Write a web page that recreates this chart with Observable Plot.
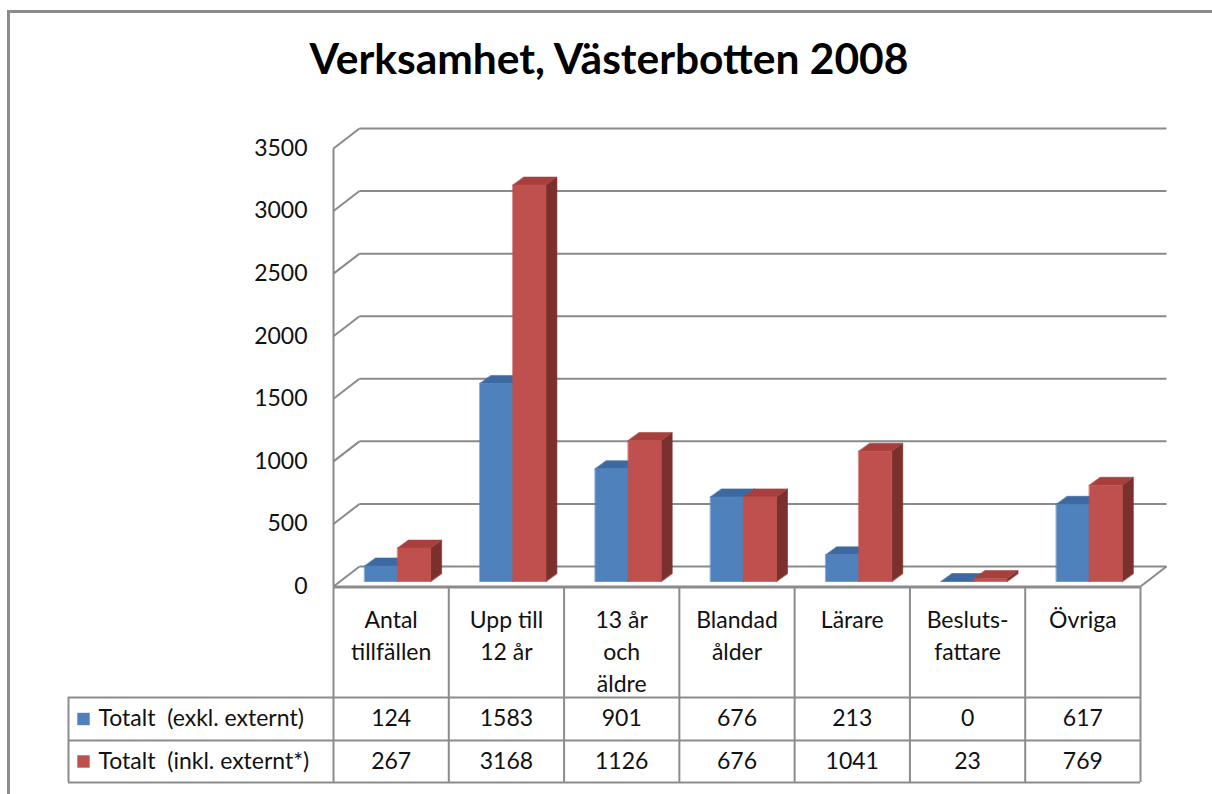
<!DOCTYPE html>
<html><head><meta charset="utf-8">
<script src="https://cdn.jsdelivr.net/npm/d3@7"></script>
<script src="https://cdn.jsdelivr.net/npm/@observablehq/plot@0.6"></script>
<style>
body{margin:0;background:#fff;}
#wrap{position:relative;width:1212px;height:794px;overflow:hidden;font-family:Lato,sans-serif;background:#fff;}
#frame{position:absolute;left:7px;top:10px;width:1400px;height:1000px;border-left:3px solid #8c8c8c;border-top:3px solid #8c8c8c;}
#title{position:absolute;left:0;width:1218px;top:32px;text-align:center;font-weight:bold;font-size:42.5px;font-family:Lato,sans-serif;color:#000;}
#chart,#table{position:absolute;left:0;}
#chart{top:0} #table{top:580px}
svg text{white-space:pre}
</style></head>
<body><div id="wrap"><div id="frame"></div><div id="chart"></div><div id="table"></div><div id="title">Verksamhet, Västerbotten 2008</div></div>
<script>
const categories = ["Antal\ntillfällen","Upp till\n12 år","13 år\noch\näldre","Blandad\nålder","Lärare","Besluts-\nfattare","Övriga"];
const exkl = [124,1583,901,676,213,0,617];
const inkl = [267,3168,1126,676,1041,23,769];
const seriesNames = ["Totalt  (exkl. externt)","Totalt  (inkl. externt*)"];
const yTicks = [0,500,1000,1500,2000,2500,3000,3500];
const colors = {
  front:["#4f81bd","#c0504d"],
  top:["#3d69a3","#a7403d"],
  side:["#2f5482","#7b302e"]
};

// layout (pixels)
const X0=333, X1=1140, Y0=586, YT=148;
const nCat = categories.length;
const kx = nCat/(X1-X0), ky = 3500/(Y0-YT);
const off = (x,v,ox,oy)=>({x:x+ox*kx, y:v-oy*ky});
const WALL=[26,-20], FRONT=[6.5,-5], DEPTH=[11,-8], BARW=33;

// walls / grid
const grid = yTicks.map(t=>({a:off(0,t,...WALL), b:off(nCat,t,...WALL)}));
const diag = yTicks.map(t=>({a:{x:0,y:t}, b:off(0,t,...WALL)}));
const frameLines = [
  {a:{x:0,y:0}, b:{x:0,y:3500}},
  {a:{x:0,y:0}, b:{x:nCat,y:0}},
  {a:{x:nCat,y:0}, b:off(nCat,0,...WALL)}
];
const L = (data)=>Plot.link(data,{x1:d=>d.a.x,y1:d=>d.a.y,x2:d=>d.b.x,y2:d=>d.b.y,stroke:"#8a8a8a",strokeWidth:2});

// bars as 3D polygons
const polys=[];
let pid=0;
function face(pts, fill){ pid++; pts.forEach(p=>polys.push({id:pid,x:p.x,y:p.y,fill})); }
const w = BARW*kx;
for(let i=0;i<nCat;i++){
  const c=i+0.5;
  [exkl,inkl].forEach((vals,s)=>{
    const v=vals[i];
    const x0 = s===0? c-w : c, x1 = s===0? c : c+w;
    const F=FRONT, B=[FRONT[0]+DEPTH[0], FRONT[1]+DEPTH[1]];
    face([off(x1,0,...F),off(x1,v,...F),off(x1,v,...B),off(x1,0,...B)], colors.side[s]);
    face([off(x0,v,...F),off(x1,v,...F),off(x1,v,...B),off(x0,v,...B)], colors.top[s]);
    face([off(x0,0,...F),off(x1,0,...F),off(x1,v,...F),off(x0,v,...F)], colors.front[s]);
  });
}

const chart = Plot.plot({
  width:1212, height:600,
  marginLeft:X0, marginRight:1212-X1, marginTop:YT, marginBottom:600-Y0,
  style:{fontSize:"23px", fontFamily:"Lato, sans-serif", color:"#111", background:"transparent", overflow:"visible"},
  x:{type:"linear", domain:[0,nCat], axis:null},
  y:{domain:[0,3500], ticks:yTicks, tickSize:0, tickPadding:26, label:null, tickFormat:d=>String(d)},
  color:{type:"identity"},
  marks:[
    L(grid), L(diag), L(frameLines),
    Plot.line(polys,{x:"x",y:"y",z:"id",fill:"fill",stroke:"fill",strokeWidth:0.6,curve:"linear-closed"})
  ]
});
document.getElementById("chart").append(chart);

// data table
const LEG = -(X0-68)*kx;
const rowY=[0,1,2,3];
const T = (opts)=>({fontSize:23, fill:"#111", ...opts});
const table = Plot.plot({
  width:1212, height:214,
  marginLeft:X0, marginRight:1212-X1, marginTop:0, marginBottom:0,
  style:{fontFamily:"Lato, sans-serif", background:"transparent", overflow:"visible"},
  x:{type:"linear", domain:[0,nCat], range:[X0,X1], axis:null},
  y:{type:"linear", domain:rowY, range:[7,117,160,202], axis:null},
  color:{type:"identity"},
  marks:[
    Plot.ruleY([0],{x1:0,x2:nCat,stroke:"#8c8c8c",strokeWidth:2}),
    Plot.ruleY([1,2,3],{x1:LEG,x2:nCat,stroke:"#8c8c8c",strokeWidth:2}),
    Plot.ruleX(d3.range(nCat+1),{y1:0,y2:3,stroke:"#8c8c8c",strokeWidth:2}),
    Plot.ruleX([LEG],{y1:1,y2:3,stroke:"#8c8c8c",strokeWidth:2}),
    Plot.text(categories, T({x:(d,i)=>i+0.5, y:()=>0, text:d=>d, lineAnchor:"top", dy:18, lineHeight:1.39})),
    Plot.text(exkl, T({x:(d,i)=>i+0.5, y:()=>1.5, text:d=>String(d)})),
    Plot.text(inkl, T({x:(d,i)=>i+0.5, y:()=>2.5, text:d=>String(d)})),
    Plot.dot([0,1],{x:()=>LEG, y:d=>1.5+d, dx:15, symbol:"square", r:7, fill:d=>colors.front[d], stroke:"none"}),
    Plot.text(seriesNames, T({x:()=>LEG, y:(d,i)=>1.5+i, dx:30, textAnchor:"start", text:d=>d}))
  ]
});
document.getElementById("table").append(table);
</script></body></html>
